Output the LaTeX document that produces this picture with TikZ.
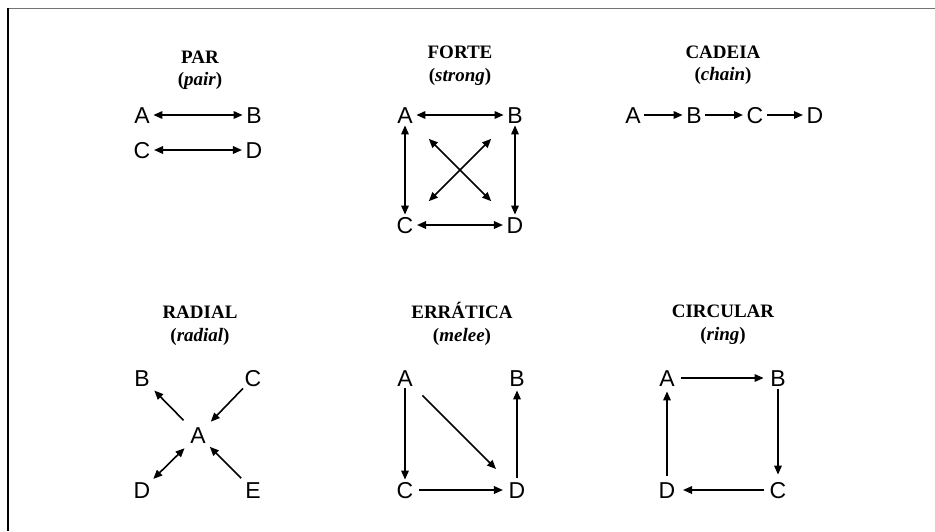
\documentclass[tikz,border=0pt]{standalone}
\usepackage{fontspec}
\setmainfont{Liberation Serif}
\newfontfamily\nodefont{Liberation Sans}
\usetikzlibrary{arrows.meta}
\begin{document}
\begin{tikzpicture}[x=1pt,y=-1pt,
  v/.style={font=\nodefont\fontsize{23}{23}\selectfont, inner xsep=3.5pt, inner ysep=2pt, text height=16.4pt, text depth=0pt},
  ttl/.style={font=\fontsize{19}{19}\selectfont\bfseries, anchor=base, inner sep=0pt},
  arr/.style={line width=1.6pt, -{Triangle[length=9pt,width=7.5pt]}},
  darr/.style={line width=1.6pt, {Triangle[length=9pt,width=7.5pt]}-{Triangle[length=9pt,width=7.5pt]}}]
\useasboundingbox (0,0) rectangle (935,531);
\draw[color=black!55, line width=1.6pt] (7,8.5) -- (935,8.5);
\draw[black, line width=1.6pt] (8,8) -- (8,531);

% PAR
\node[ttl] (tpar) at (200,63) {PAR};
\node[ttl] (spar) at (200,85) {(\textit{pair})};
\node[v] (pA) at (142,115) {A};
\node[v] (pB) at (254,115) {B};
\node[v] (pC) at (142,150) {C};
\node[v] (pD) at (254,150) {D};
\draw[darr] (pA) -- (pB);
\draw[darr] (pC) -- (pD);

% FORTE
\node[ttl] (tfor) at (460,58) {FORTE};
\node[ttl] (sfor) at (460,81) {(\textit{strong})};
\node[v] (fA) at (405,115) {A};
\node[v] (fB) at (515,115) {B};
\node[v] (fC) at (405,225) {C};
\node[v] (fD) at (515,225) {D};
\draw[darr] (fA) -- (fB);
\draw[darr] (fC) -- (fD);
\draw[darr] (fA) -- (fC);
\draw[darr] (fB) -- (fD);
\draw[darr, shorten >=19pt, shorten <=19pt] (fA) -- (fD);
\draw[darr, shorten >=19pt, shorten <=19pt] (fB) -- (fC);

% CADEIA
\node[ttl] (tcad) at (723,58) {CADEIA};
\node[ttl] (scad) at (723,80) {(\textit{chain})};
\node[v] (cA) at (633,115) {A};
\node[v] (cB) at (694,115) {B};
\node[v] (cC) at (755,115) {C};
\node[v] (cD) at (815,115) {D};
\draw[arr] (cA) -- (cB);
\draw[arr] (cB) -- (cC);
\draw[arr] (cC) -- (cD);

% RADIAL
\node[ttl] (trad) at (200,318) {RADIAL};
\node[ttl] (srad) at (200,341) {(\textit{radial})};
\node[v] (rB) at (142,378) {B};
\node[v] (rC) at (253,378) {C};
\node[v] (rA) at (198,435) {A};
\node[v] (rD) at (142,490) {D};
\node[v] (rE) at (253,490) {E};
\draw[arr, shorten <=6pt, shorten >=3pt] (rA) -- (rB);
\draw[arr, shorten >=4pt] (rC) -- (rA);
\draw[darr, shorten <=1pt, shorten >=4pt] (rD) -- (rA);
\draw[arr, shorten <=2pt, shorten >=2pt] (rE) -- (rA);

% ERRATICA
\node[ttl] (terr) at (462,318) {ERRÁTICA};
\node[ttl] (serr) at (462,341) {(\textit{melee})};
\node[v] (eA) at (405,378) {A};
\node[v] (eB) at (517,378) {B};
\node[v] (eC) at (405,490) {C};
\node[v] (eD) at (517,490) {D};
\draw[arr] (eA) -- (eC);
\draw[arr, shorten <=10pt, shorten >=15pt] (eA) -- (eD);
\draw[arr, shorten <=2pt, shorten >=2pt] (eC) -- (eD);
\draw[arr, shorten <=2pt, shorten >=2pt] (eD) -- (eB);

% CIRCULAR
\node[ttl] (tcir) at (723,317) {CIRCULAR};
\node[ttl] (scir) at (723,340) {(\textit{ring})};
\node[v] (iA) at (667,378) {A};
\node[v] (iB) at (778,378) {B};
\node[v] (iC) at (778,490) {C};
\node[v] (iD) at (667,490) {D};
\draw[arr, shorten <=3pt, shorten >=3pt] (iA) -- (iB);
\draw[arr, shorten <=1pt, shorten >=5pt] (iB) -- (iC);
\draw[arr, shorten <=2pt, shorten >=4pt] (iC) -- (iD);
\draw[arr, shorten <=4pt, shorten >=3pt] (iD) -- (iA);
\end{tikzpicture}
\end{document}
